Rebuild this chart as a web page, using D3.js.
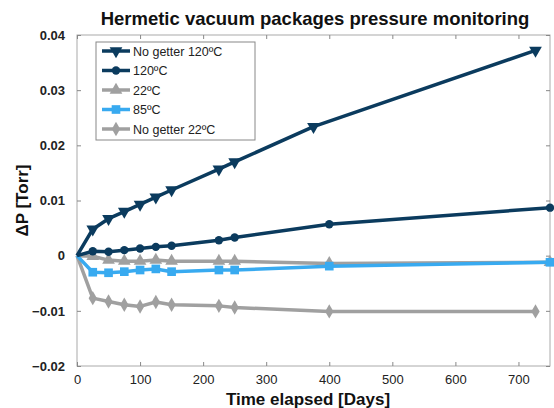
<!DOCTYPE html>
<html>
<head>
<meta charset="utf-8">
<script src="https://cdn.jsdelivr.net/npm/d3@7"></script>
<style>
  body { margin: 0; background: #fff; }
  text { font-family: "Liberation Sans", Arial, sans-serif; }
</style>
</head>
<body>
<div id="chart"></div>
<script>
const days = [0, 25, 50, 75, 100, 125, 150, 225, 250];

const noGetter120 = [0, 0.0048, 0.0067, 0.008, 0.0093, 0.0106, 0.0119, 0.0157, 0.017];
const noGetter120Days = [375, 727];
const noGetter120Tail = [0.0234, 0.0372];

const c120 = [0, 0.0008, 0.0007, 0.001, 0.0013, 0.0016, 0.0018, 0.0028, 0.0033];
const c22 = [0, -0.0001, -0.0008, -0.001, -0.001, -0.0008, -0.001, -0.001, -0.001];
const c85 = [0, -0.003, -0.0031, -0.0029, -0.0026, -0.0024, -0.0029, -0.0026, -0.0026];
const noGetter22 = [0, -0.0077, -0.0083, -0.0089, -0.0092, -0.0084, -0.0089, -0.0091, -0.0094];

const tailDays = [400, 750];
const c120Tail = [0.0057, 0.0087];
const c22Tail = [-0.0014, -0.0012];
const c85Tail = [-0.0019, -0.0012];
const noGetter22Days = [400, 727];
const noGetter22Tail = [-0.0101, -0.0101];

const xTicks = [0, 100, 200, 300, 400, 500, 600, 700];
const yTicks = [-0.02, -0.01, 0, 0.01, 0.02, 0.03, 0.04];

const navy = "#0b3b5e", gray = "#a0a0a0", blue = "#38aaf0";

const series = [
  { name: "No getter 120ºC", color: navy, symbol: "down",
    x: days.concat(noGetter120Days), y: noGetter120.concat(noGetter120Tail) },
  { name: "120ºC", color: navy, symbol: "circle",
    x: days.concat(tailDays), y: c120.concat(c120Tail) },
  { name: "22ºC", color: gray, symbol: "up",
    x: days.concat(tailDays), y: c22.concat(c22Tail) },
  { name: "85ºC", color: blue, symbol: "square",
    x: days.concat(tailDays), y: c85.concat(c85Tail) },
  { name: "No getter 22ºC", color: gray, symbol: "diamond",
    x: days.concat(noGetter22Days), y: noGetter22.concat(noGetter22Tail) }
];

const width = 554, height = 408;
const margin = { top: 35, right: 4, bottom: 42, left: 77 };

const svg = d3.select("#chart").append("svg")
  .attr("width", width)
  .attr("height", height);

const x = d3.scaleLinear().domain([0, 750]).range([margin.left, width - margin.right]);
const y = d3.scaleLinear().domain([-0.02, 0.04]).range([height - margin.bottom, margin.top]);

// axis box
svg.append("rect")
  .attr("x", x(0)).attr("y", y(0.04))
  .attr("width", x(750) - x(0)).attr("height", y(-0.02) - y(0.04))
  .attr("fill", "none").attr("stroke", "#aaa").attr("stroke-width", 1);

const fmtY = d => d === 0 ? "0" : d3.format(".2f")(d);

const xb = svg.append("g").attr("transform", `translate(0,${y(-0.02)})`)
  .call(d3.axisBottom(x).tickValues(xTicks).tickSizeInner(-4).tickSizeOuter(0).tickPadding(9));
const xt = svg.append("g").attr("transform", `translate(0,${y(0.04)})`)
  .call(d3.axisTop(x).tickValues(xTicks).tickSizeInner(-4).tickSizeOuter(0).tickFormat(""));
const yl = svg.append("g").attr("transform", `translate(${x(0)},0)`)
  .call(d3.axisLeft(y).tickValues(yTicks).tickSizeInner(-4).tickSizeOuter(0).tickPadding(12).tickFormat(fmtY));
const yr = svg.append("g").attr("transform", `translate(${x(750)},0)`)
  .call(d3.axisRight(y).tickValues(yTicks).tickSizeInner(-4).tickSizeOuter(0).tickFormat(""));

[xb, xt, yl, yr].forEach(g => {
  g.select(".domain").remove();
  g.selectAll(".tick line").attr("stroke", "#888");
});
xb.selectAll("text").attr("font-size", 13).attr("fill", "#222");
yl.selectAll("text").attr("font-size", 13).attr("font-weight", "bold").attr("fill", "#222");

const symbols = {
  down: d3.symbol().type(d3.symbolTriangle).size(70),
  up: d3.symbol().type(d3.symbolTriangle).size(70),
  circle: d3.symbol().type(d3.symbolCircle).size(55),
  square: d3.symbol().type(d3.symbolSquare).size(75),
  diamond: d3.symbol().type(d3.symbolDiamond).size(60)
};
const rot = s => s === "down" ? " rotate(180)" : "";

const line = d3.line().x(d => x(d[0])).y(d => y(d[1]));

// draw in order so that navy is on top
const drawOrder = [4, 2, 3, 1, 0];
drawOrder.forEach(i => {
  const s = series[i];
  const pts = s.x.map((v, k) => [v, s.y[k]]);
  svg.append("path").datum(pts)
    .attr("d", line)
    .attr("fill", "none")
    .attr("stroke", s.color)
    .attr("stroke-width", 3.5)
    .attr("stroke-linejoin", "round");
  svg.append("g").selectAll("path")
    .data(pts.slice(1))
    .enter().append("path")
    .attr("d", symbols[s.symbol])
    .attr("transform", d => `translate(${x(d[0])},${y(d[1])})${rot(s.symbol)}`)
    .attr("fill", s.color);
});

// legend
const lg = svg.append("g").attr("transform", "translate(96,42)");
lg.append("rect").attr("width", 159).attr("height", 98)
  .attr("fill", "#fff").attr("stroke", "#888").attr("stroke-width", 1);
series.forEach((s, i) => {
  const row = lg.append("g").attr("transform", `translate(0,${9 + i * 19.5})`);
  row.append("line").attr("x1", 6).attr("x2", 34).attr("y1", 0).attr("y2", 0)
    .attr("stroke", s.color).attr("stroke-width", 3.5);
  row.append("path").attr("d", symbols[s.symbol])
    .attr("transform", `translate(20,0)${rot(s.symbol)}`)
    .attr("fill", s.color);
  row.append("text").attr("x", 37).attr("y", 4.5)
    .attr("font-size", 12.5).attr("fill", "#222").text(s.name);
});

// titles
svg.append("text").attr("x", 315).attr("y", 25)
  .attr("text-anchor", "middle").attr("font-size", 18.5).attr("font-weight", "bold")
  .attr("fill", "#111").text("Hermetic vacuum packages pressure monitoring");
svg.append("text").attr("x", 308).attr("y", 405)
  .attr("text-anchor", "middle").attr("font-size", 17).attr("font-weight", "bold")
  .attr("fill", "#111").text("Time elapsed [Days]");
svg.append("text").attr("transform", `translate(28,${y(0.01)}) rotate(-90)`)
  .attr("text-anchor", "middle").attr("font-size", 17).attr("font-weight", "bold")
  .attr("fill", "#111").text("ΔP [Torr]");
</script>
</body>
</html>
